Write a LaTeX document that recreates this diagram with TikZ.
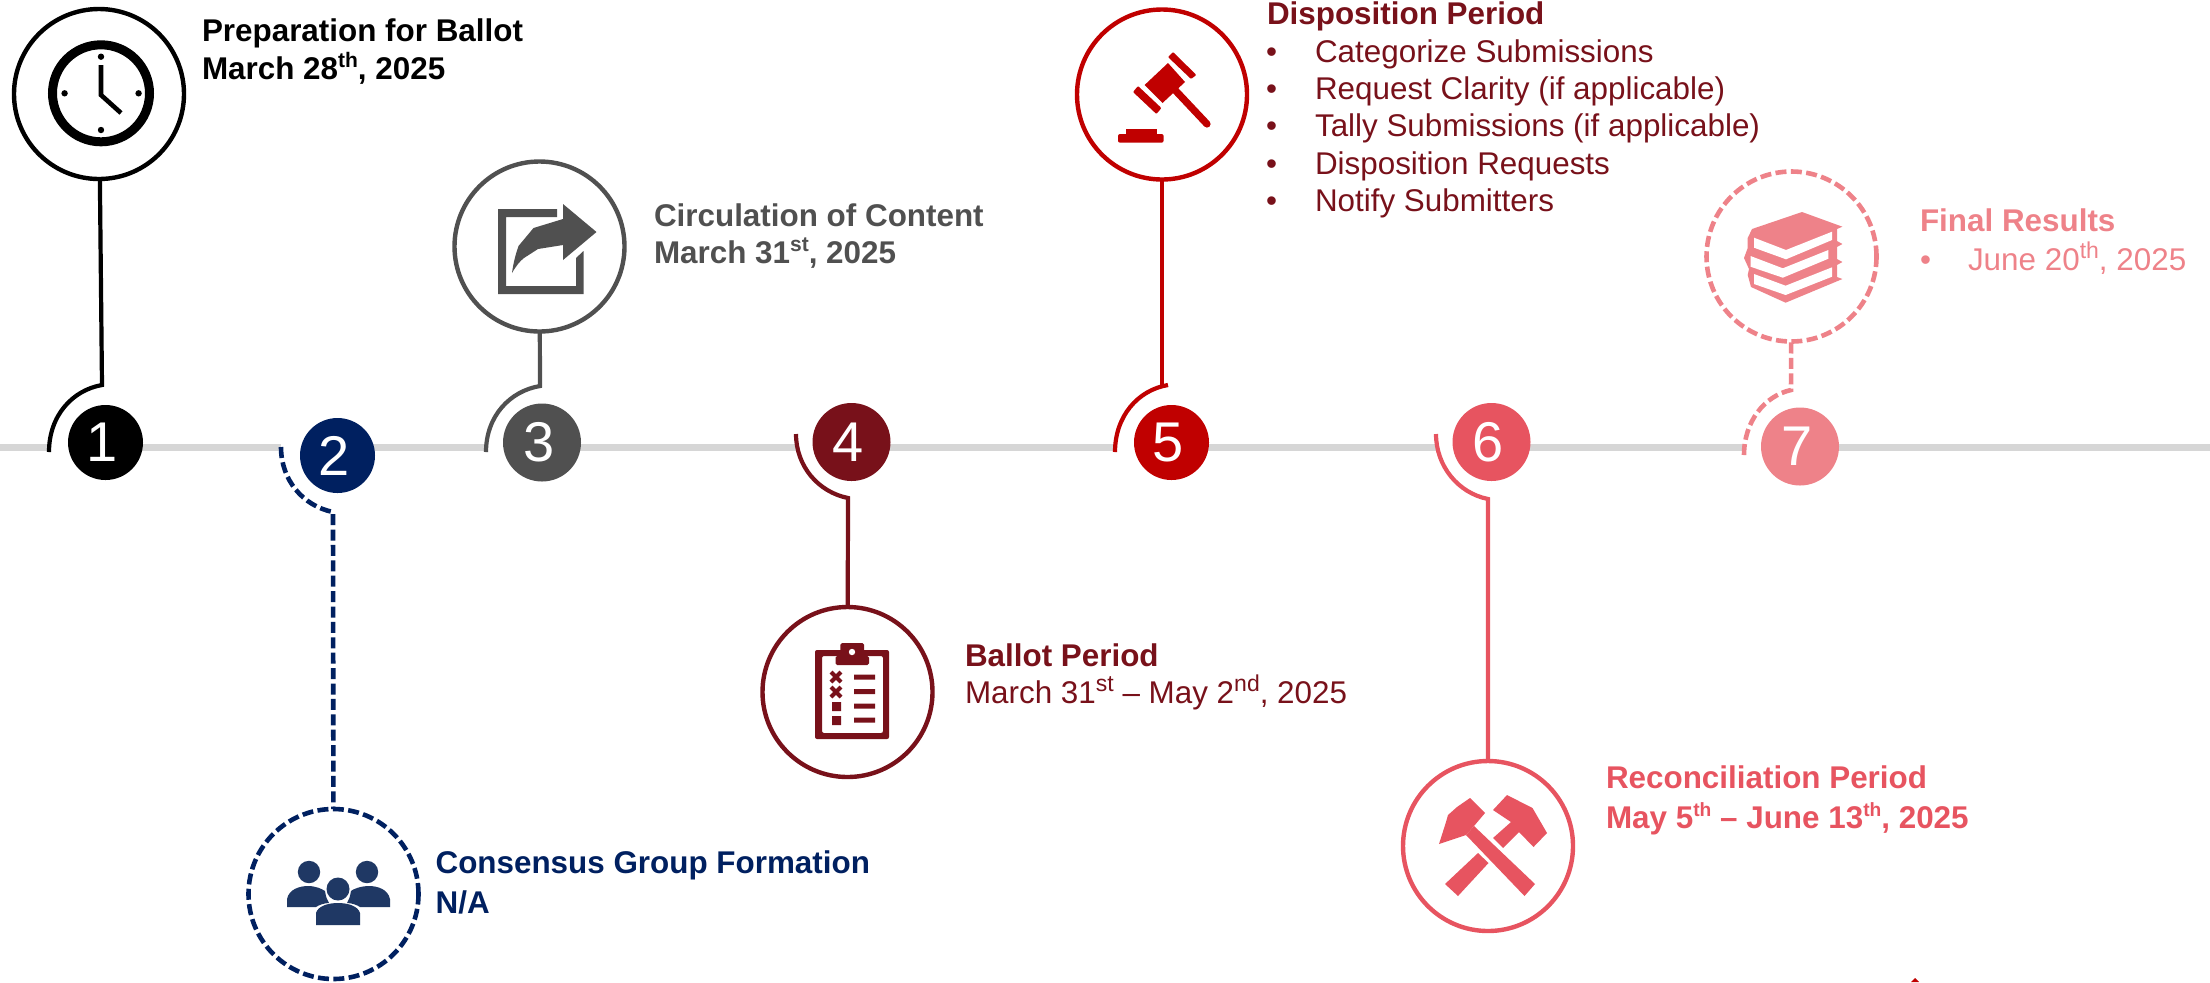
\documentclass[tikz,border=0pt]{standalone}
\usepackage{fontspec}
\setmainfont{Liberation Sans}
\usetikzlibrary{backgrounds}
\definecolor{cblack}{HTML}{000000}
\definecolor{cnavy}{HTML}{002060}
\definecolor{cppl}{HTML}{1F3864}
\definecolor{cgray}{HTML}{505050}
\definecolor{cmaroon}{HTML}{78111A}
\definecolor{cred}{HTML}{C00000}
\definecolor{ccoral}{HTML}{E75460}
\definecolor{cpink}{HTML}{EE8289}
\definecolor{ctl}{HTML}{D6D6D6}
\newcommand{\sups}[1]{\raisebox{.36em}{\fontsize{11.5pt}{12pt}\selectfont #1}}
\newcommand{\supsb}[1]{\raisebox{.38em}{\fontsize{10.5pt}{12pt}\selectfont #1}}
\newcommand{\supsc}[1]{\raisebox{.38em}{\fontsize{9.6pt}{12pt}\selectfont #1}}
\newcommand{\dgt}[1]{#1\kern3pt}
\tikzset{
  x=0.5pt,y=-0.5pt,
  bigc/.style={circle,draw=#1,line width=2.2pt,minimum size=85pt,inner sep=0pt,outer sep=0pt,fill=white},
  smallc/.style={circle,fill=#1,text=white,inner sep=0pt,outer sep=0pt,font=\fontsize{28pt}{28pt}\selectfont},
  rs/.style={minimum size=37.5pt},
  rl/.style={minimum size=39pt},
  lnk/.style={draw=#1,line width=2.1pt},
  dashy/.style={line width=2.3pt,dash pattern=on 5.5pt off 2.2pt},
  tline/.style={draw=ctl,line width=3.5pt},
  bt/.style={anchor=base west,inner sep=0pt,outer sep=0pt,text=#1,font=\fontsize{15.7pt}{18pt}\selectfont\bfseries},
  rt/.style={anchor=base west,inner sep=0pt,outer sep=0pt,text=#1,font=\fontsize{15.7pt}{18pt}\selectfont},
}
\begin{document}
\begin{tikzpicture}
\useasboundingbox (0,0) rectangle (2210,982);
\coordinate (tl0) at (0,447.5);
\coordinate (tl1) at (2210,447.5);
% big circles
\node[bigc=cblack] (b1) at (99,94) {};
\node[bigc=cnavy,dashy] (b2) at (333.5,894) {};
\node[bigc=cgray] (b3) at (539.5,246.5) {};
\node[bigc=cmaroon] (b4) at (847.5,692) {};
\node[bigc=cred] (b5) at (1162,94.5) {};
\node[bigc=ccoral] (b6) at (1488,846) {};
\node[bigc=cpink,dashy] (b7) at (1791.5,256.5) {};
% small circles
\node[smallc=cblack,rs] (c1) at (105.5,442.5) {\dgt{1}};
\node[smallc=cnavy,rs] (c2) at (337.5,455.5) {\dgt{2}};
\node[smallc=cgray,rl] (c3) at (542,442.5) {\dgt{3}};
\node[smallc=cmaroon,rl] (c4) at (851.5,442) {\dgt{4}};
\node[smallc=cred,rs] (c5) at (1171.5,442.5) {\dgt{5}};
\node[smallc=ccoral,rl] (c6) at (1491.5,442) {\dgt{6}};
\node[smallc=cpink,rl] (c7) at (1800,446.5) {\dgt{7}};
% arc coordinates
\coordinate (s1) at (49,452); \coordinate (e1) at (102,385);
\coordinate (s2) at (281,447); \coordinate (e2) at (333,512);
\coordinate (s3) at (486,452); \coordinate (e3) at (540,386);
\coordinate (s4) at (796,434); \coordinate (e4) at (848,498);
\coordinate (s5) at (1115,452); \coordinate (e5) at (1168,385);
\coordinate (s6) at (1436,434); \coordinate (e6) at (1488,499);
\coordinate (s7) at (1744,455); \coordinate (e7) at (1791,390);
% timeline
\begin{pgfonlayer}{background}
\draw[tline] (tl0) -- (s1 |- tl0);
\draw[tline] (c1.center |- tl0) -- (s2 |- tl0);
\draw[tline] (c2.center |- tl0) -- (s3 |- tl0);
\draw[tline] (c3.center |- tl0) -- (s4 |- tl0);
\draw[tline] (c4.center |- tl0) -- (s5 |- tl0);
\draw[tline] (c5.center |- tl0) -- (s6 |- tl0);
\draw[tline] (c6.center |- tl0) -- (s7 |- tl0);
\draw[tline] (c7.center |- tl0) -- (tl1);
\end{pgfonlayer}
% arcs and stems
\draw[lnk=cblack] (s1) .. controls (49,415) and (73,390) .. (e1) -- (b1);
\draw[lnk=cnavy,dashy] (s2) .. controls (281,480) and (303,506) .. (e2) -- (b2);
\draw[lnk=cgray] (s3) .. controls (486,416) and (510,391) .. (e3) -- (b3);
\draw[lnk=cmaroon] (s4) .. controls (796,466) and (818,492) .. (e4) -- (b4);
\draw[lnk=cred] (s5) .. controls (1115,416) and (1138,390) .. (e5);
\draw[lnk=cred] (b5) -- (b5.center |- e5);
\draw[lnk=ccoral] (s6) .. controls (1436,466) and (1458,493) .. (e6) -- (b6);
\draw[lnk=cpink,dashy] (s7) .. controls (1744,422) and (1764,396) .. (e7) -- (b7);
% clock icon
\draw[cblack,line width=4.5pt] (101,93.3) circle (48.5);
\fill[cblack] (101,56.7) circle (3.2) (101,130) circle (3.2) (64.6,93.3) circle (3.2) (138.6,93.3) circle (3.2);
\draw[cblack,line width=2.3pt] (101,65) -- (101,95) -- (121,113);
% people icon
\fill[cppl] (309,872) circle (11.2) (367,872) circle (11.2) (338,889) circle (11.5);
\fill[cppl] (287,907) -- (287,899) .. controls (289,889) and (300,886) .. (308,886) .. controls (316,886) and (322,889) .. (325,891) .. controls (326,897) and (327,900) .. (329,903) .. controls (324,903) and (319,905) .. (316,907) -- cycle;
\fill[cppl] (390,907) -- (390,899) .. controls (388,889) and (377,886) .. (369,886) .. controls (361,886) and (353,889) .. (351,891) .. controls (350,897) and (349,900) .. (347,903) .. controls (352,903) and (357,905) .. (360,907) -- cycle;
\fill[cppl] (316,925) -- (316,913) .. controls (318,906) and (328,903) .. (338,903) .. controls (348,903) and (358,906) .. (360,913) -- (360,925) -- cycle;
% share icon
\fill[cgray,even odd rule] (498,209) -- (557,209) -- (557,217) -- (506,217) -- (506,286) -- (576,286) -- (576,258) -- (583.5,251) -- (583.5,294) -- (498,294) -- cycle;
\fill[cgray] (596.5,232) -- (563,204) -- (563,219) -- (533.5,228) -- (518.5,246) .. controls (515,256) and (513,265) .. (512,273) .. controls (516,266) and (520,261) .. (524,258) -- (538,249) -- (563,245) -- (563,260) -- cycle;
% clipboard icon
\fill[cmaroon,even odd rule,rounded corners=1pt] (815,650) rectangle (889,739) (822,656) rectangle (883,733);
\fill[cmaroon,rounded corners=0.8pt] (835.5,656) -- (840.4,656) -- (840.4,643) -- (864,643) -- (864,656) -- (869,656) -- (869,665) -- (835.5,665) -- cycle;
\fill[white] (852,652) circle (3.2);
\draw[cmaroon,line width=2pt] (831,672) -- (841,682) (841,672) -- (831,682) (831,687) -- (841,697) (841,687) -- (831,697);
\fill[cmaroon] (832,702) rectangle (841,711) (832,716) rectangle (841,725);
\fill[cmaroon] (854,674.5) rectangle (875,679.5) (854,689) rectangle (875,694) (854,703.5) rectangle (875,708.5) (854,717.5) rectangle (875,722.5);
% gavel icon
\fill[cred,rounded corners=0.5pt] (1173,52) -- (1196.4,75) -- (1191,79) -- (1168,57) -- cycle;
\fill[cred] (1168,63) -- (1185,82) -- (1162.5,103) -- (1144.6,85) -- cycle;
\fill[cred,rounded corners=0.5pt] (1138,86) -- (1161.4,108) -- (1156.4,114) -- (1133,92) -- cycle;
\draw[cred,line width=3.6pt,line cap=round] (1175,90) -- (1207,124);
\fill[cred,rounded corners=1pt] (1118,134) rectangle (1163.6,142.7);
\fill[cred] (1125.7,129.3) rectangle (1157,135);
% hammers icon
\fill[ccoral] (1470,798) -- (1485,813) -- (1474,826) -- (1466,835) -- (1439,844) -- (1446,822) -- (1448,815) -- (1457,807) -- cycle;
\fill[ccoral] (1474,826) -- (1535,884) -- (1524.5,896) -- (1466,835) -- cycle;
\fill[ccoral] (1507,795) -- (1532.5,808) -- (1547,833) -- (1533.5,847) -- (1519,832) -- (1503,848) -- (1493,838) -- (1511,822) -- (1493,810) -- cycle;
\fill[ccoral] (1478,853) -- (1488.5,863) -- (1458,896) -- (1445,884) -- cycle;
% books icon
\fill[cpink] (1752,229) -- (1802,212) -- (1842.4,226.7) -- (1837,229) -- (1837,241) -- (1842.4,244) -- (1837,247) -- (1837,259) -- (1842.4,262) -- (1837,265) -- (1837,277) -- (1842.4,279) -- (1785.6,302.7) -- (1751,287) -- (1747.7,275) -- (1749,269) -- (1744,258) -- (1747.7,248) -- (1747.7,238) -- cycle;
\fill[white] (1754,237.7) -- (1786,250) -- (1832,231.7) -- (1832,240) -- (1786,259.3) -- (1754,247.7) -- cycle;
\fill[white] (1750.5,256) -- (1782.8,268.3) -- (1828.4,250) -- (1828.4,258.7) -- (1782.8,277.7) -- (1750.5,266.7) -- cycle;
\fill[white] (1754,274) -- (1785.6,285.7) -- (1832,267.3) -- (1832,276.7) -- (1785.6,295) -- (1754,284) -- cycle;
% small red mark at the bottom edge
\fill[cred] (1915,978) -- (1911,982) -- (1919,982) -- cycle;
% texts
\node[bt=cblack] (t1a) at (202,41) {Preparation for Ballot};
\node[bt=cblack] (t1b) at (202,79) {March 28\supsb{th}, 2025};
\node[bt=cnavy] (t2a) at (435.6,873) {Consensus Group Formation};
\node[bt=cnavy] (t2b) at (435.6,913) {N/A};
\node[bt=cgray] (t3a) at (654,226) {Circulation of Content};
\node[bt=cgray] (t3b) at (654,263) {March 31\supsb{st}, 2025};
\node[bt=cmaroon] (t4a) at (965,666) {Ballot Period};
\node[rt=cmaroon] (t4b) at (965,703) {March 31\sups{st} – May 2\sups{nd}, 2025};
\node[bt=cmaroon] (t5a) at (1267,24) {Disposition Period};
\node[rt=cmaroon] (t5b1) at (1266,62) {•};
\node[rt=cmaroon] (t5b2) at (1266,99) {•};
\node[rt=cmaroon] (t5b3) at (1266,136) {•};
\node[rt=cmaroon] (t5b4) at (1266,174) {•};
\node[rt=cmaroon] (t5b5) at (1266,211) {•};
\node[rt=cmaroon] (t5i1) at (1315,62) {Categorize Submissions};
\node[rt=cmaroon] (t5i2) at (1315,99) {Request Clarity (if applicable)};
\node[rt=cmaroon] (t5i3) at (1315,136) {Tally Submissions (if applicable)};
\node[rt=cmaroon] (t5i4) at (1315,174) {Disposition Requests};
\node[rt=cmaroon] (t5i5) at (1315,211) {Notify Submitters};
\node[bt=ccoral] (t6a) at (1606,788) {Reconciliation Period};
\node[bt=ccoral] (t6b) at (1606,828) {May 5\supsc{th} – June 13\supsc{th}, 2025};
\node[bt=cpink] (t7a) at (1920,231.7) {Final Results};
\node[rt=cpink] (t7b) at (1920,270) {•};
\node[rt=cpink] (t7c) at (1968,270) {June 20\sups{th}, 2025};
\end{tikzpicture}
\end{document}
